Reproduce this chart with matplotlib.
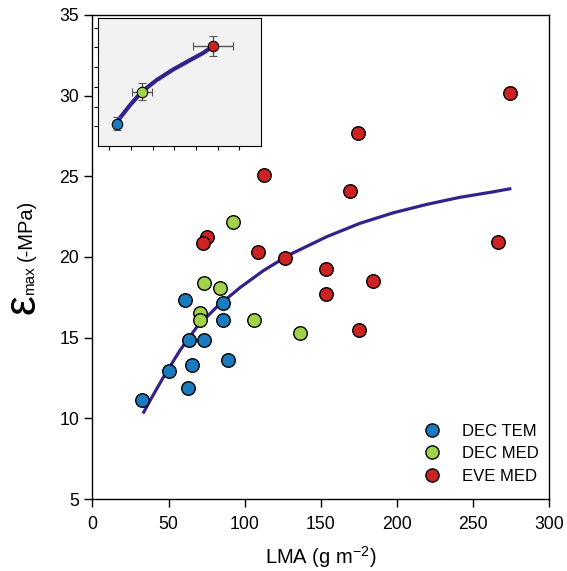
import numpy as np
import matplotlib
matplotlib.use("Agg")
from matplotlib import pyplot as plt
from matplotlib.lines import Line2D

plt.rcParams['font.family'] = ['Liberation Sans', 'DejaVu Sans']
plt.rcParams['mathtext.fontset'] = 'custom'
plt.rcParams['mathtext.rm'] = 'Liberation Sans'

# Datos (LMA, emax)
lmaTem = [60.7, 85.6, 85.6, 63.1, 73.2, 65.5, 50.2, 89.1, 62.9, 32.5]
epsTem = [17.32, 17.16, 16.08, 14.84, 14.84, 13.30, 12.94, 13.59, 11.91, 11.15]

lmaDecMed = [73.2, 83.7, 70.7, 70.7, 105.8, 136.0, 92.5]
epsDecMed = [18.36, 18.07, 16.50, 16.08, 16.08, 15.30, 22.16]

lmaEve = [112.4, 75.5, 72.6, 108.5, 126.3, 274.2, 174.4, 169.4, 266.3, 153.1, 153.1, 184.5, 175.3]
epsEve = [25.07, 21.25, 20.84, 20.28, 19.94, 30.17, 27.67, 24.08, 20.94, 19.24, 17.68, 18.54, 15.45]

# Curva de ajuste (puntos leidos)
curvaX = [33.2, 38, 46.7, 57.6, 68.6, 81.7, 96.9, 112.2, 126.4, 131.8, 153.7, 175.5, 197.3, 219.2, 241, 262.8, 275]
curvaY = [10.30, 11.13, 12.57, 14.23, 15.67, 16.91, 18.10, 19.15, 19.97, 20.25, 21.25, 22.08, 22.73, 23.25,
          23.69, 24.03, 24.24]

# Medias del recuadro
mediaX = [67, 90.3, 155.6]
mediaY = [14.28, 17.5, 22.13]
errX = [3.7, 8.9, 18.7]
errY = [0.64, 0.84, 1.06]
insetCurvaX = [67, 68.5, 79.3, 90.1, 103.9, 119.3, 134.7, 147, 155.9]
insetCurvaY = [14.28, 14.64, 16.15, 17.5, 18.69, 19.77, 20.71, 21.45, 22.13]

grupos = ['DEC TEM', 'DEC MED', 'EVE MED']
colores = ['#1a7bbf', '#a2d24a', '#cc2222']
colorCurva = '#33228c'

fig = plt.figure(figsize=(5.67, 5.71), dpi=100)
ax = fig.add_axes([0.163, 0.126, 0.806, 0.848])

ax.plot(curvaX, curvaY, color=colorCurva, lw=2.3, solid_capstyle='butt', solid_joinstyle='round', zorder=2)
xs = [lmaTem, lmaDecMed, lmaEve]
ys = [epsTem, epsDecMed, epsEve]
for i in range(3):
    ax.scatter(xs[i], ys[i], s=95, color=colores[i], edgecolors='black', linewidths=1, zorder=3)

ax.set_xlim(0, 300)
ax.set_ylim(5, 35)
ax.set_xticks(np.arange(0, 301, 50))
ax.set_yticks(np.arange(5, 36, 5))
ax.tick_params(direction='out', length=6, width=1, labelsize=12.7)
ax.tick_params(axis='x', pad=6)
for s in ax.spines.values():
    s.set_linewidth(1)
ax.set_xlabel('LMA (g m$^{\\mathregular{-2}}$)', fontsize=14.5, labelpad=8)

# Etiqueta del eje y
fig.text(23 / 567, 1 - 304 / 571, 'ε', rotation=90, fontsize=32, ha='center', va='center')
fig.text(30 / 567, 1 - 281 / 571, 'max', rotation=90, fontsize=11, ha='center', va='center')
fig.text(26.5 / 567, 1 - 230 / 571, '(-MPa)', rotation=90, fontsize=14.5, ha='center', va='center')

handles = [Line2D([], [], marker='o', ls='', markersize=9.5, markerfacecolor=c, markeredgecolor='black',
                  markeredgewidth=1) for c in colores]
ax.legend(handles, grupos, loc='lower left', bbox_to_anchor=(0.724, 0.032), frameon=False, fontsize=12,
          borderpad=0, borderaxespad=0, handlelength=1, handletextpad=1.3, labelspacing=0.45)

# Recuadro
axIn = fig.add_axes([0.1734, 0.7443, 0.287, 0.2247])
axIn.set_facecolor('#f2f2f2')
axIn.plot(insetCurvaX, insetCurvaY, color=colorCurva, lw=3, solid_joinstyle='round', zorder=2)
for i in range(3):
    axIn.errorbar(mediaX[i], mediaY[i], xerr=errX[i], yerr=errY[i], fmt='o', markersize=7.5,
                  markerfacecolor=colores[i], markeredgecolor='black', markeredgewidth=0.8,
                  ecolor='#555555', elinewidth=1, capsize=3, capthick=1, zorder=3)
axIn.set_xlim(50, 200)
axIn.set_ylim(12, 25)
axIn.set_xticks(np.arange(60, 181, 20))
axIn.set_yticks(np.arange(14, 25, 2))
axIn.set_xticklabels([])
axIn.set_yticklabels([])
axIn.tick_params(direction='out', length=3, width=0.8)

plt.savefig('out.png', dpi=100)
